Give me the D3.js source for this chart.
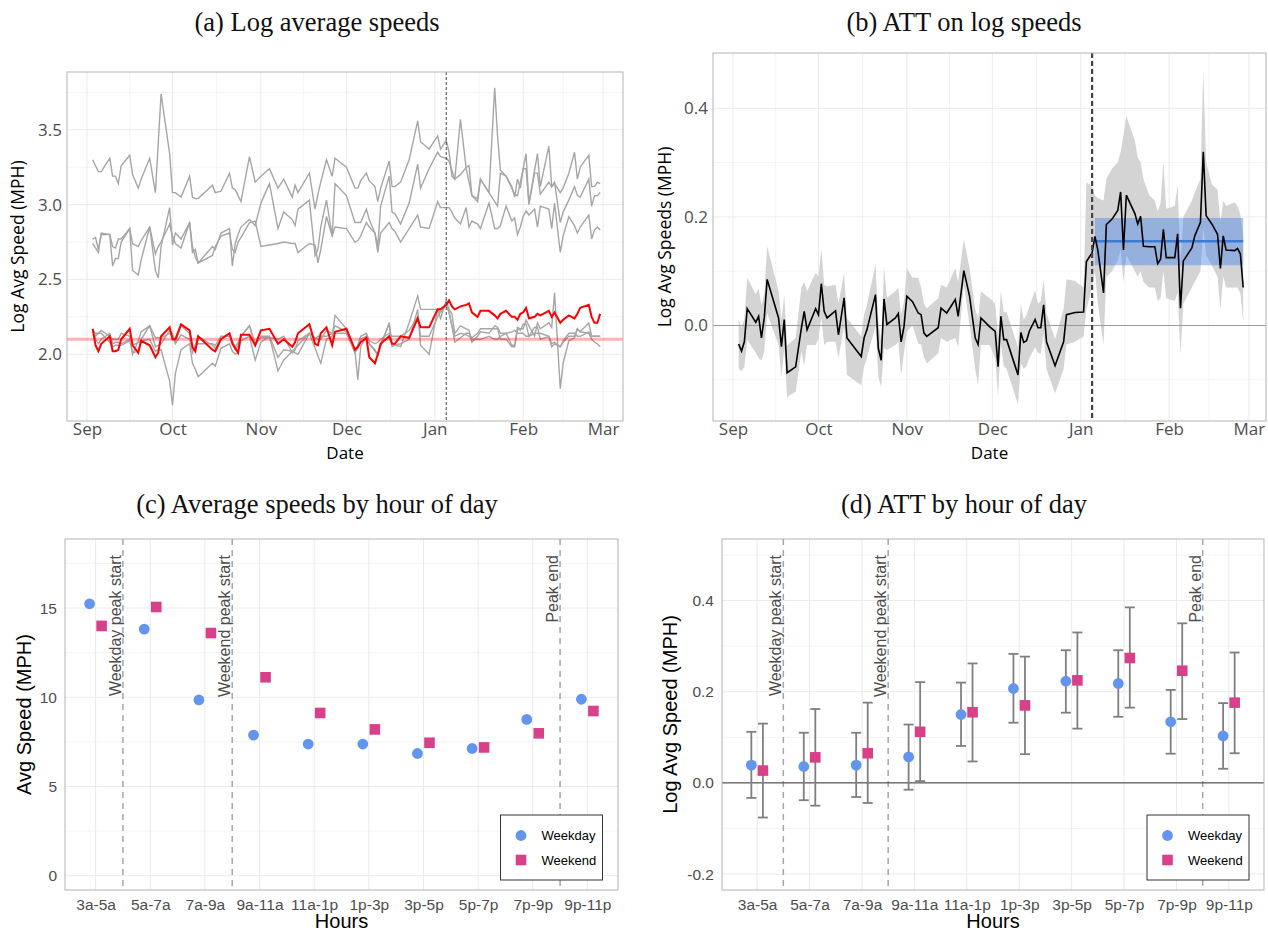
<!DOCTYPE html>
<html>
<head>
<meta charset="utf-8">
<script src="https://cdn.jsdelivr.net/npm/d3@7"></script>
<style>
  body { margin: 0; background: #fff; }
  svg { display: block; }
</style>
</head>
<body>
<svg id="fig" width="1268" height="932"></svg>
<script>
// ---------------- data ----------------
// panel (a): observation days (offset from Sep 1) and log avg speeds
const days = [2,3,4,5, 8,9,10,11,12, 15,16,18,19, 22,24,25,26, 29,30,31,33, 36,37,38,39, 44,45,47,
  50,51,52,53,54, 57,59,61, 64,67,69, 72,73,74, 78,80,81,82, 84,86,87, 91,
  94,95,96,98,99, 101,102,103, 106,107,108,110, 113,116,117,120, 123,124,126,127,128,129,
  131,133,134,135,137,138, 141,143,144,145,147, 149,150,151,152,153,154,155, 157,158,159,
  162,163,164,166,167,169, 171,172,173,176,177,178,179,180];

const speedTop = [3.30,3.26,3.22,3.22, 3.31,3.19,3.19,3.14,3.26, 3.33,3.20,3.11,3.17, 3.31,3.08,3.41,3.74,
  3.34,3.08,3.08,3.05, 3.19,3.05,3.04,3.04, 3.13,3.08,3.09, 3.21,3.11,3.10,3.06,3.02, 3.32,3.15,3.19,
  3.24,3.11,3.17, 3.05,3.13,3.08, 3.21,2.97,3.07,3.15, 3.30,3.19,3.31, 3.25,
  3.11,3.11,3.16,3.21,3.16, 3.12,3.02,3.11, 3.29,3.12,3.12,3.15, 3.30,3.56,3.42,3.37,
  3.46,3.37,3.43,3.35,3.19,3.17, 3.57,3.24,3.15,3.06,3.02,3.17, 3.08,3.78,3.46,3.23,3.19,
  3.12,3.05,3.17,3.11,3.24,3.34,3.01, 3.23,3.34,3.12, 3.39,3.12,3.14,3.08,3.11,3.21,
  3.35,3.17,3.25,3.33,3.12,3.12,3.15,3.14];

const speedMidA = [2.77,2.78,2.70,2.80, 2.80,2.59,2.64,2.64,2.75, 2.84,2.56,2.53,2.63, 2.85,2.56,2.51,2.72,
  2.98,2.73,2.81,2.77, 2.88,2.68,2.70,2.61, 2.72,2.70,2.81, 2.84,2.59,2.74,2.80,2.85, 2.90,2.86,3.01,
  3.14,2.84,2.95, 2.90,2.86,2.97, 3.03,2.66,2.70,2.85, 3.03,2.79,3.14, 3.06,
  2.88,2.88,2.88,2.97,2.90, 2.81,2.72,2.99, 3.19,2.95,2.94,2.87, 3.01,3.27,3.11,3.24,
  3.35,3.32,3.31,3.29,3.23,3.17, 3.20,3.25,3.26,3.06,3.04,3.17, 3.08,3.02,2.99,3.21,3.19,
  3.11,3.07,3.06,3.15,3.24,3.24,3.00, 3.21,3.21,3.07, 3.15,3.12,3.15,2.88,2.95,3.03,
  3.12,3.06,3.05,3.17,2.99,3.06,3.06,3.08];

const speedMidB = [2.74,2.71,2.68,2.81, 2.80,2.72,2.71,2.77,2.77, 2.84,2.74,2.72,2.76, 2.85,2.67,2.72,2.75,
  2.87,2.79,2.74,2.71, 2.88,2.72,2.65,2.61, 2.66,2.72,2.79, 2.81,2.70,2.68,2.75,2.78, 2.88,2.89,2.72,
  2.73,2.74,2.75, 2.74,2.74,2.68, 2.74,2.73,2.61,2.70, 2.92,2.79,2.85, 2.84,
  2.75,2.76,2.79,2.88,2.85, 2.81,2.68,2.81, 2.88,2.84,2.82,2.75, 2.84,2.93,2.85,2.84,
  3.02,2.98,2.98,2.98,2.95,2.91, 2.87,2.98,2.85,2.89,2.87,2.84, 3.01,2.84,2.84,2.86,2.99,
  2.89,2.91,2.80,2.85,2.92,2.96,2.93, 2.97,2.85,2.99, 2.97,2.84,3.01,2.68,2.79,2.92,
  2.86,2.81,2.85,2.93,2.77,2.83,2.85,2.83];

const speedLowA = [2.17,2.10,2.07,2.10, 2.14,2.07,2.08,2.08,2.07, 2.10,2.06,2.08,2.09, 2.10,2.02,2.03,2.03,
  1.82,1.66,1.87,2.03, 2.07,1.94,1.90,1.85, 1.94,1.92,2.04, 2.07,2.02,2.00,2.01,2.09, 2.12,1.96,2.08,
  2.12,1.89,1.96, 2.02,2.01,2.00, 2.14,2.04,1.99,1.94, 2.10,2.12,2.26, 2.17,
  2.02,1.83,2.05,2.12,2.07, 2.03,1.99,2.05, 2.21,2.07,2.06,2.05, 2.21,2.39,2.30,2.30,
  2.30,2.24,2.36,2.30,2.27,2.14, 2.19,2.17,2.16,2.08,2.12,2.15, 2.14,2.19,2.18,2.14,2.14,
  2.06,2.06,2.18,2.17,2.17,2.23,2.19, 2.12,2.21,2.17, 2.21,2.18,2.41,1.77,1.94,2.09,
  2.11,2.17,2.15,2.21,2.12,2.12,2.12,2.12];

const speedLowB = [2.17,2.12,2.14,2.16, 2.12,2.10,2.10,2.10,2.14, 2.12,2.00,2.09,2.15, 2.19,2.05,2.06,2.07,
  2.16,2.14,2.08,2.19, 2.14,2.01,2.06,2.12, 2.06,2.04,2.10, 2.14,2.08,2.03,2.06,2.12, 2.19,2.07,2.11,
  2.11,2.10,2.12, 2.01,2.03,2.09, 2.14,2.11,2.10,2.10, 2.16,2.14,2.19, 2.15,
  2.01,2.04,2.10,2.12,2.07, 2.02,2.00,2.07, 2.20,2.05,2.06,2.07, 2.10,2.30,2.06,2.00,
  2.30,2.28,2.33,2.28,2.19,2.08, 2.11,2.14,2.14,2.11,2.14,2.17, 2.17,2.17,2.17,2.10,2.10,
  2.05,2.05,2.17,2.16,2.20,2.20,2.12, 2.18,2.18,2.10, 2.12,2.05,2.07,2.05,2.08,2.12,
  2.12,2.17,2.15,2.14,2.10,2.08,2.07,2.05];

const speedLowC = [2.16,2.14,2.14,2.14, 2.08,2.05,2.06,2.06,2.06, 2.09,2.01,2.02,2.10, 2.19,2.11,2.11,2.11,
  2.14,2.12,2.07,2.13, 2.10,2.03,2.06,2.07, 2.07,2.06,2.12, 2.12,2.09,2.05,2.08,2.12, 2.19,2.06,2.12,
  2.12,1.98,2.03, 2.02,2.04,2.06, 2.14,2.10,2.12,2.12, 2.12,2.14,2.14, 2.14,
  2.01,2.06,2.12,2.14,2.09, 2.07,2.08,2.10, 2.14,2.12,2.12,2.12, 2.16,2.25,2.12,2.12,
  2.25,2.30,2.33,2.28,2.19,2.12, 2.14,2.13,2.12,2.10,2.10,2.10, 2.12,2.10,2.10,2.12,2.14,
  2.15,2.16,2.14,2.14,2.14,2.12,2.12, 2.14,2.14,2.14, 2.12,2.07,2.08,2.05,2.09,2.14,
  2.14,2.12,2.12,2.15,2.12,2.12,2.12,2.12];

const speedTreated = [2.17,2.06,2.02,2.07, 2.12,2.02,2.02,2.03,2.10, 2.17,2.06,2.01,2.09, 2.06,1.98,2.01,2.12,
  2.18,2.10,2.10,2.20, 2.16,2.05,2.02,2.12, 2.03,2.02,2.10, 2.14,2.07,2.04,2.01,2.13, 2.13,2.06,2.16,
  2.17,2.07,2.10, 2.05,2.08,2.14, 2.20,2.07,2.06,2.14, 2.18,2.06,2.15, 2.17,
  2.03,2.05,2.08,2.11,1.98, 1.94,2.00,2.07, 2.12,2.07,2.07,2.12, 2.11,2.24,2.18,2.18,
  2.30,2.30,2.33,2.36,2.32,2.30, 2.32,2.33,2.34,2.28,2.25,2.29, 2.29,2.26,2.24,2.27,2.29,
  2.25,2.25,2.23,2.27,2.28,2.31,2.24, 2.25,2.27,2.26, 2.29,2.25,2.28,2.21,2.23,2.26,
  2.24,2.27,2.31,2.33,2.25,2.21,2.21,2.27];

const treatedPreMean = 2.10;
const treatDay = 126;

// panel (b): ATT on log speeds
const attDays = [2,3,4,5,8,9,10,11,12,16,17,18,19,22,24,25,26,29,30,31,32,33,36,37,39,40,45,46,47,
  50,51,52,53,54,57,58,59,60,61,63,65,66,67,68,72,73,75,78,79,81,83,85,86,87,90,92,93,94,95,96,
  100,101,102,103,104,106,107,108,109,110,113,116,117,120,123,124,126,127,128,130,131,133,135,136,
  137,138,141,142,143,144,146,148,149,150,151,152,155,156,157,158,161,162,164,165,166,168,170,171,
  172,173,176,177,178,179];
const att = [-0.034,-0.047,-0.030,0.031,0.006,0.017,-0.023,0.015,0.085,0.014,-0.039,0.011,-0.087,-0.076,
  -0.005,0.026,-0.008,0.031,0.020,0.077,0.026,0.014,0.027,-0.017,0.051,-0.023,-0.057,-0.023,-0.008,
  0.057,-0.042,-0.064,0.049,0.002,0.014,0.022,-0.030,-0.002,0.054,0.044,0.023,0.020,-0.014,-0.020,
  -0.004,0.032,0.023,0.048,0.017,0.101,0.054,-0.023,-0.035,0.014,-0.002,-0.011,-0.076,0.017,-0.026,
  -0.026,-0.091,-0.013,-0.031,-0.028,-0.010,0.011,-0.004,-0.004,0.038,-0.030,-0.074,-0.030,0.020,
  0.024,0.025,0.118,0.134,0.164,0.139,0.060,0.186,0.196,0.212,0.246,0.139,0.240,0.206,0.187,0.201,
  0.146,0.145,0.145,0.114,0.122,0.177,0.125,0.125,0.169,0.032,0.119,0.143,0.165,0.190,0.320,0.202,
  0.187,0.168,0.105,0.165,0.139,0.138,0.142,0.132,0.070];
const attLo = [-0.079,-0.084,-0.076,-0.026,-0.050,-0.060,-0.064,-0.048,0.022,-0.036,-0.095,-0.042,-0.132,
  -0.122,-0.048,-0.073,-0.036,-0.036,-0.024,0.014,-0.036,-0.030,-0.030,-0.060,-0.001,-0.091,-0.110,
  -0.075,-0.060,-0.001,-0.095,-0.113,-0.042,-0.045,-0.036,-0.030,-0.092,-0.050,-0.011,0.000,-0.033,
  -0.035,-0.058,-0.070,-0.051,-0.023,-0.030,-0.023,-0.040,0.075,0.001,-0.080,-0.110,-0.036,-0.036,
  -0.060,-0.130,-0.033,-0.075,-0.080,-0.145,-0.070,-0.080,-0.075,-0.060,-0.040,-0.050,-0.052,-0.015,
  -0.080,-0.125,-0.080,-0.035,-0.030,-0.020,0.030,0.070,0.100,0.040,-0.036,0.090,0.100,0.120,0.140,
  0.080,0.130,0.100,0.090,0.100,0.080,0.070,0.070,0.045,0.050,0.100,0.050,0.045,0.060,-0.054,0.040,
  0.070,0.080,0.100,0.180,0.130,0.110,0.090,0.030,0.090,0.070,0.070,0.070,0.060,0.007];
const attHi = [0.010,-0.004,0.012,0.088,0.058,0.068,0.038,0.060,0.146,0.064,0.010,0.056,-0.037,-0.023,
  0.070,0.080,0.063,0.097,0.090,0.142,0.075,0.072,0.075,0.040,0.097,0.014,-0.020,0.020,0.038,0.113,
  0.010,-0.030,0.109,0.051,0.063,0.070,0.020,0.045,0.106,0.088,0.088,0.070,0.040,0.032,0.050,0.075,
  0.070,0.106,0.080,0.159,0.106,0.030,0.014,0.063,0.050,0.040,-0.020,0.064,0.024,0.025,-0.040,0.040,
  0.010,0.020,0.035,0.065,0.040,0.045,0.085,0.022,-0.025,0.030,0.085,0.082,0.070,0.264,0.255,0.240,
  0.235,0.230,0.270,0.289,0.300,0.320,0.350,0.386,0.340,0.310,0.300,0.270,0.240,0.230,0.210,0.225,
  0.300,0.215,0.220,0.260,0.110,0.200,0.230,0.245,0.270,0.471,0.300,0.260,0.250,0.190,0.230,0.220,
  0.227,0.220,0.205,0.163];
const avgSpan = [127, 179];              // post-period covered by the average effect
const avgEffect = [0.111, 0.155, 0.198]; // lower, estimate, upper

// panels (c) and (d): by hour of day
const hours = ["3a-5a","5a-7a","7a-9a","9a-11a","11a-1p","1p-3p","3p-5p","5p-7p","7p-9p","9p-11p"];
const weekdaySpeed = [15.24,13.82,9.85,7.88,7.38,7.38,6.85,7.13,8.76,9.89];
const weekendSpeed = [14.00,15.06,13.60,11.12,9.12,8.20,7.45,7.19,7.98,9.23];
const weekdayAtt   = [0.039,0.036,0.039,0.057,0.150,0.207,0.223,0.218,0.134,0.103];
const weekdayAttLo = [-0.033,-0.038,-0.031,-0.015,0.081,0.132,0.154,0.145,0.064,0.031];
const weekdayAttHi = [0.112,0.110,0.110,0.128,0.220,0.283,0.291,0.291,0.204,0.175];
const weekendAtt   = [0.027,0.056,0.065,0.112,0.155,0.170,0.225,0.274,0.246,0.176];
const weekendAttLo = [-0.076,-0.050,-0.044,0.004,0.047,0.063,0.119,0.165,0.140,0.065];
const weekendAttHi = [0.130,0.162,0.176,0.221,0.262,0.277,0.330,0.385,0.350,0.286];
const markAfter  = ["3a-5a", "7a-9a", "7p-9p"];
const markLabels = ["Weekday peak start", "Weekend peak start", "Peak end"];

// ---------------- helpers ----------------
const svg = d3.select("#fig");
const SANS = "'Open Sans', 'Noto Sans', sans-serif";
const ARIAL = "'Liberation Sans', Arial, sans-serif";
const SERIF = "'Liberation Serif', 'Times New Roman', serif";
const BLUE = "#6495ED", PINK = "#D9408A";
const GRID = "#ebebeb", GRID_MINOR = "#f4f4f4";

const start = new Date(2018, 8, 1);
const toDate = d => d3.timeDay.offset(start, d);
const expand = ([a, b], k = 0.05) => [a - (b - a) * k, b + (b - a) * k];

function title(txt, x, y) {
  svg.append("text").attr("x", x).attr("y", y).attr("text-anchor", "middle")
    .attr("font-family", SERIF).attr("font-size", 26.5).attr("fill", "#111").text(txt);
}

function hLines(g, box, y, vals, color, w = 1) {
  g.selectAll(null).data(vals).enter().append("line")
    .attr("x1", box.x0).attr("x2", box.x1)
    .attr("y1", d => y(d)).attr("y2", d => y(d))
    .attr("stroke", color).attr("stroke-width", w);
}
function vLines(g, box, xs, color, w = 1) {
  return g.selectAll(null).data(xs).enter().append("line")
    .attr("y1", box.y0).attr("y2", box.y1)
    .attr("x1", d => d).attr("x2", d => d)
    .attr("stroke", color).attr("stroke-width", w);
}
function frame(g, box) {
  g.append("rect").attr("x", box.x0).attr("y", box.y0)
    .attr("width", box.x1 - box.x0).attr("height", box.y1 - box.y0)
    .attr("fill", "none").attr("stroke", "#b3b3b3").attr("stroke-width", 1);
}
function styleAxis(g, font, size) {
  g.select(".domain").remove();
  g.selectAll("text").attr("font-family", font).attr("font-size", size).attr("fill", "#4d4d4d");
}
function yTitle(txt, x, cy, font, size) {
  svg.append("text").attr("transform", `translate(${x},${cy}) rotate(-90)`)
    .attr("text-anchor", "middle").attr("font-family", font).attr("font-size", size)
    .attr("fill", "#000").text(txt);
}
function xTitle(txt, cx, y, font, size) {
  svg.append("text").attr("x", cx).attr("y", y).attr("text-anchor", "middle")
    .attr("font-family", font).attr("font-size", size).attr("fill", "#000").text(txt);
}

// ---------------- (a) Log average speeds ----------------
{
  const box = {x0: 67, x1: 623, y0: 72, y1: 421};
  const g = svg.append("g");
  const grays = [speedTop, speedMidA, speedMidB, speedLowA, speedLowB, speedLowC];
  const allVals = grays.flat().concat(speedTreated);
  const x = d3.scaleTime().domain(expand(d3.extent(days)).map(toDate)).range([box.x0, box.x1]);
  const y = d3.scaleLinear().domain(expand(d3.extent(allVals))).range([box.y1, box.y0]);

  const months = d3.timeMonth.range(toDate(0), toDate(182));
  const mids = months.slice(1).map((m, i) => new Date((+m + +months[i]) / 2));
  vLines(g, box, mids.map(x), GRID_MINOR);
  hLines(g, box, y, [1.75, 2.25, 2.75, 3.25, 3.75], GRID_MINOR);
  vLines(g, box, months.map(x), GRID);
  hLines(g, box, y, [2.0, 2.5, 3.0, 3.5], GRID);

  const line = d3.line().x((d, i) => x(toDate(days[i]))).y(d => y(d));
  g.selectAll(".gray").data(grays).enter().append("path")
    .attr("d", line).attr("fill", "none").attr("stroke", "#a6a6a6").attr("stroke-width", 1.4);
  g.append("path").attr("d", line(speedTreated)).attr("fill", "none")
    .attr("stroke", "#ff0000").attr("stroke-width", 2);
  hLines(g, box, y, [treatedPreMean], "rgba(255,0,0,0.3)", 3);
  vLines(g, box, [x(toDate(treatDay))], "#444").attr("stroke-dasharray", "3,2");
  frame(g, box);

  svg.append("g").attr("transform", `translate(${box.x0},0)`)
    .call(d3.axisLeft(y).tickValues([2.0, 2.5, 3.0, 3.5]).tickFormat(d3.format(".1f")).tickSize(0).tickPadding(5))
    .call(s => styleAxis(s, SANS, 17));
  svg.append("g").attr("transform", `translate(0,${box.y1})`)
    .call(d3.axisBottom(x).tickValues(months).tickFormat(d3.timeFormat("%b")).tickSize(0).tickPadding(2))
    .call(s => styleAxis(s, SANS, 17));
  yTitle("Log Avg Speed (MPH)", 24, (box.y0 + box.y1) / 2, SANS, 17.5);
  xTitle("Date", (box.x0 + box.x1) / 2, 459, SANS, 17);
  title("(a) Log average speeds", 317, 31);
}

// ---------------- (b) ATT on log speeds ----------------
{
  const box = {x0: 713, x1: 1266, y0: 53, y1: 421};
  const g = svg.append("g");
  const x = d3.scaleTime().domain(expand(d3.extent(attDays)).map(toDate)).range([box.x0, box.x1]);
  const y = d3.scaleLinear().domain(expand([d3.min(attLo), d3.max(attHi)])).range([box.y1, box.y0]);

  const months = d3.timeMonth.range(toDate(0), toDate(182));
  const mids = months.slice(1).map((m, i) => new Date((+m + +months[i]) / 2));
  vLines(g, box, mids.map(x), GRID_MINOR);
  hLines(g, box, y, [-0.1, 0.1, 0.3], GRID_MINOR);
  vLines(g, box, months.map(x), GRID);
  hLines(g, box, y, [0.0, 0.2, 0.4], GRID);

  const area = d3.area().x((d, i) => x(toDate(attDays[i]))).y0((d, i) => y(attLo[i])).y1((d, i) => y(attHi[i]));
  g.append("path").attr("d", area(att)).attr("fill", "#d4d4d4");
  hLines(g, box, y, [0], "#9a9a9a");

  g.append("rect")
    .attr("x", x(toDate(avgSpan[0]))).attr("width", x(toDate(avgSpan[1])) - x(toDate(avgSpan[0])))
    .attr("y", y(avgEffect[2])).attr("height", y(avgEffect[0]) - y(avgEffect[2]))
    .attr("fill", "#4a86e8").attr("fill-opacity", 0.45);
  g.append("line")
    .attr("x1", x(toDate(avgSpan[0]))).attr("x2", x(toDate(avgSpan[1])))
    .attr("y1", y(avgEffect[1])).attr("y2", y(avgEffect[1]))
    .attr("stroke", "#3a7bd5").attr("stroke-width", 2.5);

  const line = d3.line().x((d, i) => x(toDate(attDays[i]))).y(d => y(d));
  g.append("path").attr("d", line(att)).attr("fill", "none").attr("stroke", "#000").attr("stroke-width", 1.6);

  g.append("line").attr("x1", x(toDate(treatDay))).attr("x2", x(toDate(treatDay)))
    .attr("y1", box.y0).attr("y2", box.y1)
    .attr("stroke", "#444").attr("stroke-width", 2.2).attr("stroke-dasharray", "5,3");
  frame(g, box);

  svg.append("g").attr("transform", `translate(${box.x0},0)`)
    .call(d3.axisLeft(y).tickValues([0.0, 0.2, 0.4]).tickFormat(d => d.toFixed(1)).tickSize(0).tickPadding(5))
    .call(s => styleAxis(s, SANS, 17));
  svg.append("g").attr("transform", `translate(0,${box.y1})`)
    .call(d3.axisBottom(x).tickValues(months).tickFormat(d3.timeFormat("%b")).tickSize(0).tickPadding(2))
    .call(s => styleAxis(s, SANS, 17));
  yTitle("Log Avg Speeds (MPH)", 671, (box.y0 + box.y1) / 2, SANS, 17.5);
  xTitle("Date", (box.x0 + box.x1) / 2, 459, SANS, 17);
  title("(b) ATT on log speeds", 964, 31);
}

// ---------------- shared pieces for (c) and (d) ----------------
function hourPanel(box, pad, yDomain, yTicks, yMinor, fmt) {
  const g = svg.append("g");
  const x = d3.scalePoint().domain(hours).range([box.x0, box.x1]).padding(pad);
  const y = d3.scaleLinear().domain(yDomain).range([box.y1, box.y0]);
  hLines(g, box, y, yMinor, GRID_MINOR);
  hLines(g, box, y, yTicks, GRID);
  vLines(g, box, hours.map(x), GRID);

  // peak markers
  const step = x.step();
  markAfter.forEach((h, i) => {
    const mx = x(h) + step / 2;
    g.append("line").attr("x1", mx).attr("x2", mx).attr("y1", box.y0).attr("y2", box.y1)
      .attr("stroke", "#a6a6a6").attr("stroke-width", 1.5).attr("stroke-dasharray", "6,5");
    g.append("text").attr("transform", `translate(${mx - 2},${box.y0 + 16}) rotate(-90)`)
      .attr("text-anchor", "end").attr("font-family", ARIAL).attr("font-size", 16)
      .attr("fill", "#4d4d4d").text(markLabels[i]);
  });

  svg.append("g").attr("transform", `translate(${box.x0},0)`)
    .call(d3.axisLeft(y).tickValues(yTicks).tickFormat(fmt).tickSize(0).tickPadding(8))
    .call(s => styleAxis(s, ARIAL, 15.5));
  svg.append("g").attr("transform", `translate(0,${box.y1})`)
    .call(d3.axisBottom(x).tickSize(0).tickPadding(9))
    .call(s => styleAxis(s, ARIAL, 15.5));
  return {g, x, y, step};
}

function drawPoints(g, x, y, step, vals, shape, color, side) {
  const off = side * step * 0.11;
  if (shape === "circle") {
    g.selectAll(null).data(vals).enter().append("circle")
      .attr("cx", (d, i) => x(hours[i]) + off).attr("cy", d => y(d)).attr("r", 5.4)
      .attr("fill", color);
  } else {
    g.selectAll(null).data(vals).enter().append("rect")
      .attr("x", (d, i) => x(hours[i]) + off - 5.3).attr("y", d => y(d) - 5.3)
      .attr("width", 10.6).attr("height", 10.6).attr("fill", color);
  }
}

function legend(x0, y0) {
  const g = svg.append("g").attr("transform", `translate(${x0},${y0})`);
  g.append("rect").attr("width", 102).attr("height", 65).attr("fill", "#fff")
    .attr("stroke", "#333").attr("stroke-width", 1);
  g.append("circle").attr("cx", 20.5).attr("cy", 20.5).attr("r", 5.4).attr("fill", BLUE);
  g.append("rect").attr("x", 15.2).attr("y", 39.7).attr("width", 10.6).attr("height", 10.6).attr("fill", PINK);
  [["Weekday", 25], ["Weekend", 49.5]].forEach(([t, yy]) => {
    g.append("text").attr("x", 41).attr("y", yy).attr("font-family", ARIAL)
      .attr("font-size", 13).attr("fill", "#000").text(t);
  });
}

// ---------------- (c) Average speeds by hour of day ----------------
{
  const box = {x0: 65, x1: 618, y0: 539, y1: 890};
  const {g, x, y, step} = hourPanel(box, 0.56, [-0.8, 18.87], [0, 5, 10, 15], [2.5, 7.5, 12.5, 17.5], d3.format("d"));
  drawPoints(g, x, y, step, weekdaySpeed, "circle", BLUE, -1);
  drawPoints(g, x, y, step, weekendSpeed, "square", PINK, 1);
  frame(g, box);
  legend(500.5, 815);
  yTitle("Avg Speed (MPH)", 31, (box.y0 + box.y1) / 2, ARIAL, 20);
  xTitle("Hours", (box.x0 + box.x1) / 2, 928, ARIAL, 20);
  title("(c) Average speeds by hour of day", 317, 513);
}

// ---------------- (d) ATT by hour of day ----------------
{
  const box = {x0: 722, x1: 1264, y0: 539, y1: 890};
  const {g, x, y, step} = hourPanel(box, 0.67, expand([-0.2, 0.5]), [-0.2, 0.0, 0.2, 0.4], [-0.1, 0.1, 0.3, 0.5], d => d.toFixed(1));
  hLines(g, box, y, [0], "#333");

  const bars = [[weekdayAtt, weekdayAttLo, weekdayAttHi, -1], [weekendAtt, weekendAttLo, weekendAttHi, 1]];
  bars.forEach(([est, lo, hi, side]) => {
    const off = side * step * 0.11;
    const eb = g.selectAll(null).data(est).enter().append("g")
      .attr("transform", (d, i) => `translate(${x(hours[i]) + off},0)`)
      .attr("stroke", "#7f7f7f").attr("stroke-width", 1.8);
    eb.append("line").attr("y1", (d, i) => y(lo[i])).attr("y2", (d, i) => y(hi[i]));
    eb.append("line").attr("x1", -5).attr("x2", 5).attr("y1", (d, i) => y(lo[i])).attr("y2", (d, i) => y(lo[i]));
    eb.append("line").attr("x1", -5).attr("x2", 5).attr("y1", (d, i) => y(hi[i])).attr("y2", (d, i) => y(hi[i]));
  });
  drawPoints(g, x, y, step, weekdayAtt, "circle", BLUE, -1);
  drawPoints(g, x, y, step, weekendAtt, "square", PINK, 1);
  frame(g, box);
  legend(1147, 815);
  yTitle("Log Avg Speed (MPH)", 677, (box.y0 + box.y1) / 2, ARIAL, 20);
  xTitle("Hours", (box.x0 + box.x1) / 2, 928, ARIAL, 20);
  title("(d) ATT by hour of day", 964, 513);
}
</script>
</body>
</html>
